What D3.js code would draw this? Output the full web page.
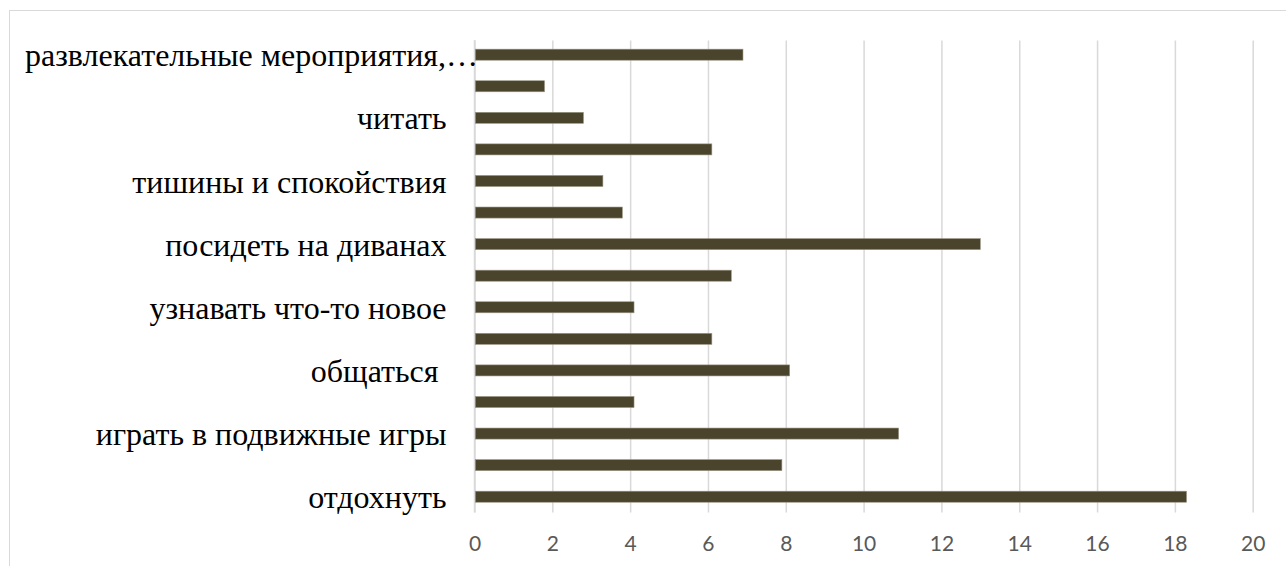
<!DOCTYPE html>
<html>
<head>
<meta charset="utf-8">
<script src="https://cdn.jsdelivr.net/npm/d3@7/dist/d3.min.js"></script>
<style>
  html, body { margin: 0; padding: 0; background: #fff; }
  svg { display: block; }
  text.cat { font-family: "Liberation Serif", Tinos, "Times New Roman", "DejaVu Serif", serif; font-size: 32px; fill: #000; white-space: pre; }
  .tick text { font-family: Lato, "Open Sans", sans-serif; font-size: 21px; fill: #595959; }
</style>
</head>
<body>
<svg id="chart" width="1286" height="566"></svg>
<script>
// Categories listed bottom-to-top; only every second one carries a visible axis label.
const categories = [
  "отдохнуть", "",
  "играть в подвижные игры", "",
  "общаться ", "",
  "узнавать что-то новое", "",
  "посидеть на диванах", "",
  "тишины и спокойствия", "",
  "читать", "",
  "развлекательные мероприятия, концерты"
];
const values = [18.3, 7.9, 10.9, 4.1, 8.1, 6.1, 4.1, 6.6, 13.0, 3.8, 3.3, 6.1, 2.8, 1.8, 6.9];
const xTicks = [0, 2, 4, 6, 8, 10, 12, 14, 16, 18, 20];

const svg = d3.select("#chart");
const W = 1286, H = 566;
const plot = { left: 474.5, right: 1252.7, top: 38.9, bottom: 512.5 };

// chart area frame
svg.append("rect")
  .attr("x", 9.5).attr("y", 10.5)
  .attr("width", W + 20).attr("height", H + 20)
  .attr("fill", "#fff").attr("stroke", "#d9d9d9").attr("stroke-width", 1);

const x = d3.scaleLinear().domain([0, 20]).range([plot.left, plot.right]);
const y = d3.scaleBand()
  .domain(d3.range(categories.length))
  .range([plot.bottom, plot.top])
  .paddingInner(0.65)
  .paddingOuter(0.325);

// vertical gridlines with value labels below
const xAxis = d3.axisBottom(x)
  .tickValues(xTicks)
  .tickFormat(d3.format("d"))
  .tickSize(-(plot.bottom - plot.top - 1.5))
  .tickPadding(24);

const gx = svg.append("g")
  .attr("transform", `translate(0,${plot.bottom})`)
  .call(xAxis);
gx.select(".domain").remove();
gx.selectAll(".tick line").attr("stroke", "#d9d9d9").attr("stroke-width", 1.5);
gx.selectAll(".tick text").attr("dy", "0.71em");

// category axis line
svg.append("line")
  .attr("x1", x(0)).attr("x2", x(0))
  .attr("y1", plot.top + 1).attr("y2", plot.bottom)
  .attr("stroke", "#d9d9d9").attr("stroke-width", 1.5);

// bars
svg.append("g").selectAll("rect")
  .data(values)
  .join("rect")
  .attr("x", x(0) + 0.8)
  .attr("y", (d, i) => y(i))
  .attr("width", d => x(d) - x(0) - 0.8)
  .attr("height", y.bandwidth())
  .attr("fill", "#4a442d")
  .attr("stroke", "#9b9684")
  .attr("stroke-width", 0.6);

// category labels, right-aligned; overly long ones are shortened with an ellipsis
const labelRight = 446.5, labelLeftLimit = 25;
const maxWidth = plot.left + 6 - labelLeftLimit;
const labels = svg.append("g").selectAll("text")
  .data(categories.map((c, i) => ({ c, i })).filter(d => d.c !== ""))
  .join("text")
  .attr("class", "cat")
  .attr("font-family", "'Liberation Serif', Tinos, 'Times New Roman', 'DejaVu Serif', serif")
  .attr("y", d => y(d.i) + y.bandwidth() / 2)
  .attr("dy", "0.36em")
  .attr("text-anchor", "end")
  .attr("x", labelRight)
  .text(d => d.c);

labels.each(function () {
  const t = d3.select(this);
  const full = t.text();
  if (this.getComputedTextLength() > maxWidth) {
    let s = full;
    while (s.length > 1) {
      s = s.slice(0, -1);
      t.text(s.trimEnd() + "…");
      if (this.getComputedTextLength() <= maxWidth) break;
    }
    const w = this.getComputedTextLength();
    t.attr("x", labelLeftLimit + w);
  }
});
</script>
</body>
</html>
